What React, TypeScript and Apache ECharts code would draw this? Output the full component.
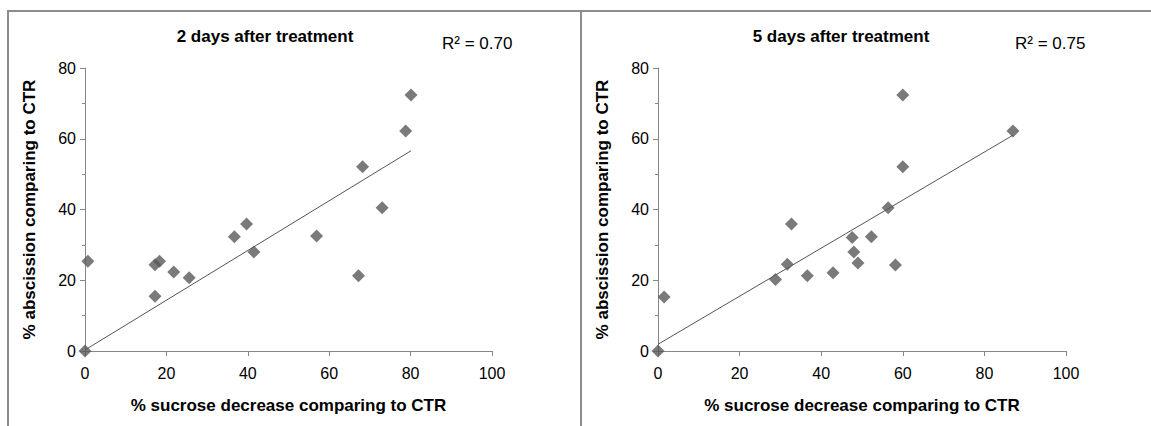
import React, { useEffect, useRef } from "react";
import * as echarts from "echarts";

// Data
const abscission2d: number[] = [72.4, 62.2, 52.1, 40.5, 35.9, 32.3, 28.0, 32.5, 21.3, 25.4, 24.4, 25.4, 22.3, 20.7, 15.5, 0];
const sucrose2d: number[] = [80.1, 78.8, 68.2, 73.0, 39.7, 36.7, 41.5, 56.9, 67.2, 0.7, 17.2, 18.3, 21.8, 25.6, 17.2, 0];
const abscission5d: number[] = [72.4, 62.2, 52.1, 40.5, 35.9, 32.1, 32.3, 28.0, 24.9, 24.3, 24.5, 20.2, 21.3, 22.1, 15.3, 0];
const sucrose5d: number[] = [60.0, 87.0, 60.0, 56.4, 32.7, 47.6, 52.3, 48.0, 49.0, 58.2, 31.7, 28.8, 36.6, 42.9, 1.5, 0];

const trend2dX: number[] = [0, 80.1];
const trend2dY: number[] = [0.3, 56.6];
const trend5dX: number[] = [0, 87.0];
const trend5dY: number[] = [1.9, 61.0];

const titles: string[] = ["2 days after treatment", "5 days after treatment"];
const r2Labels: string[] = ["R² = 0.70", "R² = 0.75"];
const xAxisName = "% sucrose decrease comparing to CTR";
const yAxisName = "% abscission comparing to CTR";

const FONT = "'Liberation Sans', Arial, sans-serif";
const AXIS_COLOR = "#868686";
const POINT_COLOR = "#595959";
const FRAME_COLOR = "#8c8c8c";

function zip(xs: number[], ys: number[]): number[][] {
  return xs.map((x, i) => [x, ys[i]]);
}

export default function App() {
  const ref = useRef<HTMLDivElement>(null);

  useEffect(() => {
    document.body.style.margin = "0";
    if (!ref.current) return;
    const chart = echarts.init(ref.current, undefined, { renderer: "svg" });

    const grids = [
      { left: 85, top: 68, width: 407, height: 283 },
      { left: 658, top: 68, width: 408, height: 283 },
    ];

    const makeX = (gi: number) => ({
      type: "value",
      gridIndex: gi,
      min: 0,
      max: 100,
      interval: 20,
      name: xAxisName,
      nameLocation: "middle",
      nameGap: 46,
      nameTextStyle: { fontFamily: FONT, fontSize: 17, fontWeight: "bold", color: "#000" },
      axisLine: { show: true, onZero: false, lineStyle: { color: AXIS_COLOR, width: 1 } },
      axisTick: { show: true, inside: false, length: 5, lineStyle: { color: AXIS_COLOR } },
      axisLabel: { fontFamily: FONT, fontSize: 16, color: "#000", margin: 14 },
      splitLine: { show: false },
    });

    const makeY = (gi: number) => ({
      type: "value",
      gridIndex: gi,
      min: 0,
      max: 80,
      interval: 20,
      name: yAxisName,
      nameLocation: "middle",
      nameGap: 47,
      nameTextStyle: { fontFamily: FONT, fontSize: 17, fontWeight: "bold", color: "#000" },
      axisLine: { show: true, onZero: false, lineStyle: { color: AXIS_COLOR, width: 1 } },
      axisTick: { show: true, inside: false, length: 5, lineStyle: { color: AXIS_COLOR } },
      minorTick: { show: true, splitNumber: 2, length: 3, lineStyle: { color: AXIS_COLOR } },
      axisLabel: { fontFamily: FONT, fontSize: 16, color: "#000", margin: 9 },
      splitLine: { show: false },
    });

    const scatter = (gi: number, xs: number[], ys: number[]) => ({
      type: "scatter",
      xAxisIndex: gi,
      yAxisIndex: gi,
      symbol: "diamond",
      symbolSize: 13,
      itemStyle: { color: POINT_COLOR },
      data: zip(xs, ys),
      z: 3,
    });

    const trend = (gi: number, xs: number[], ys: number[]) => ({
      type: "line",
      xAxisIndex: gi,
      yAxisIndex: gi,
      showSymbol: false,
      symbol: "none",
      lineStyle: { color: "#555555", width: 1 },
      data: zip(xs, ys),
      z: 2,
    });

    const option: any = {
      animation: false,
      backgroundColor: "#ffffff",
      grid: grids,
      xAxis: [makeX(0), makeX(1)],
      yAxis: [makeY(0), makeY(1)],
      series: [
        trend(0, trend2dX, trend2dY),
        scatter(0, sucrose2d, abscission2d),
        trend(1, trend5dX, trend5dY),
        scatter(1, sucrose5d, abscission5d),
      ],
      graphic: [
        { type: "line", shape: { x1: 7, y1: 11, x2: 1151, y2: 11 }, style: { stroke: FRAME_COLOR, lineWidth: 2 } },
        { type: "line", shape: { x1: 8, y1: 10, x2: 8, y2: 426 }, style: { stroke: FRAME_COLOR, lineWidth: 2 } },
        { type: "line", shape: { x1: 581, y1: 10, x2: 581, y2: 426 }, style: { stroke: FRAME_COLOR, lineWidth: 2 } },
        {
          type: "text", x: 265, y: 36,
          style: { text: titles[0], font: `bold 17px ${FONT}`, fill: "#000", align: "center", verticalAlign: "middle" },
        },
        {
          type: "text", x: 841, y: 36,
          style: { text: titles[1], font: `bold 17px ${FONT}`, fill: "#000", align: "center", verticalAlign: "middle" },
        },
        {
          type: "text", x: 442, y: 43,
          style: { text: r2Labels[0], font: `17px ${FONT}`, fill: "#000", align: "left", verticalAlign: "middle" },
        },
        {
          type: "text", x: 1015, y: 43,
          style: { text: r2Labels[1], font: `17px ${FONT}`, fill: "#000", align: "left", verticalAlign: "middle" },
        },
      ],
    };

    chart.setOption(option);
    return () => chart.dispose();
  }, []);

  return <div ref={ref} style={{ width: 1151, height: 426 }} />;
}
